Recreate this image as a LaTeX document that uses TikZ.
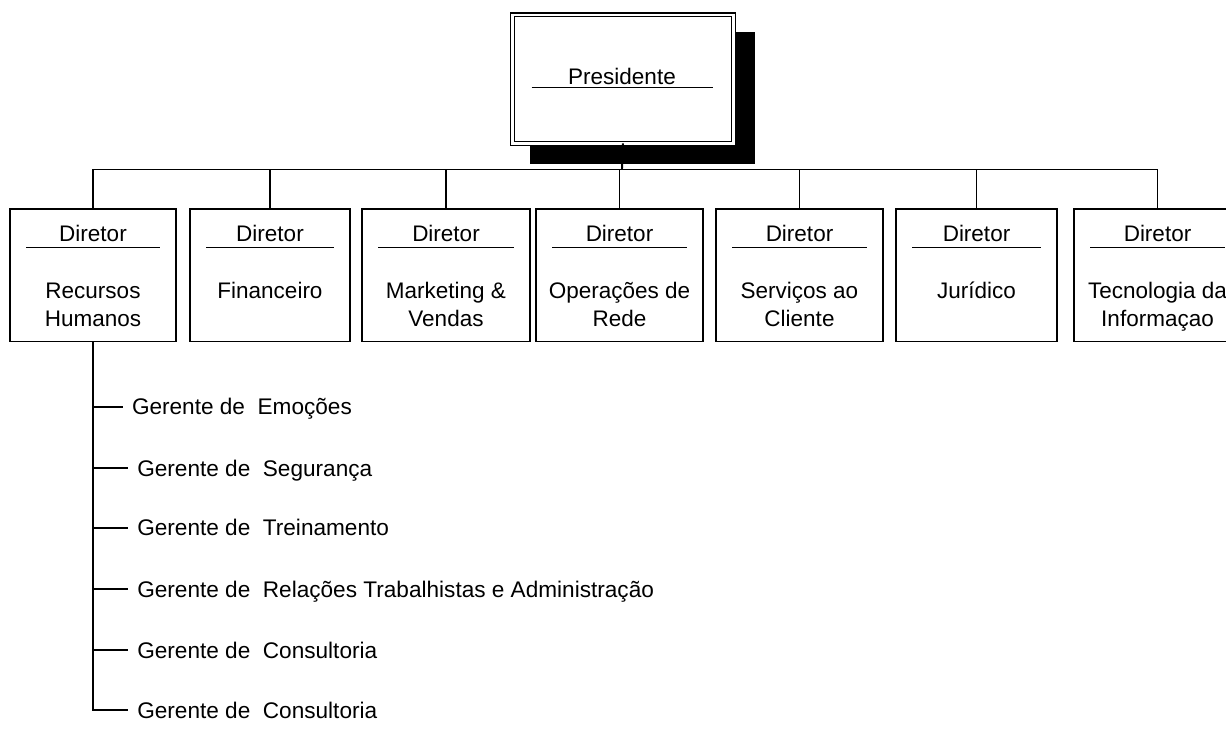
\documentclass[tikz,border=0pt]{standalone}
\usepackage{fontspec}
\setmainfont{Liberation Sans}
\usetikzlibrary{calc,backgrounds}
\begin{document}
\begin{tikzpicture}[x=1pt,y=-1pt,
  every node/.style={inner sep=0pt,outer sep=0pt},
  lbl/.style={font=\fontsize{22.5}{27.7}\selectfont,anchor=base},
  mgr/.style={font=\fontsize{22.6}{27.7}\selectfont,anchor=west,text height=16pt,text depth=0pt},
  presbox/.style={draw,double=white,double distance=2.4pt,line width=1.4pt,fill=white,
                  minimum width=220.7pt,minimum height=128.5pt},
  dirbox/.style={draw,line width=1.9pt,fill=white,minimum height=132.2pt},
  link/.style={line width=1.9pt},
  uline/.style={line width=1.5pt}]
\useasboundingbox (0,0) rectangle (1226,740);

% President box with its drop shadow
\node[presbox] (pres) at (622.95,79.05) {};
\begin{scope}[on background layer]
  \fill ($(pres.north west)+(17.4,17.2)$) rectangle ($(pres.south east)+(21.7,20.7)$);
\end{scope}
\node[lbl] (ptitle) at (622,84) {Presidente};
\draw[uline] ($(pres.west)+(19.1,8.65)$) -- ($(pres.east)+(-20,8.65)$);

% Director boxes: box, title and rule under the title
\newcommand\mkdir[3]{%
  \node[dirbox,minimum width=#3pt] (d#1) at (#2,275.4) {};
  \node[lbl] (t#1) at ($(d#1.north)+(0,32.3)$) {Diretor};
  \draw[uline] ($(d#1.north west)+(16,38.2)$) -- ($(d#1.north east)+(-16,38.2)$);
}
\mkdir{1}{93}{166}
\mkdir{2}{270}{160}
\mkdir{3}{446}{168}
\mkdir{4}{619.5}{167}
\mkdir{5}{799.5}{167}
\mkdir{6}{976.5}{161}
\mkdir{7}{1157.5}{167}

% Department names
\node[lbl] (a1) at ($(d1.north)+(0,89)$) {Recursos};
\node[lbl] (b1) at ($(d1.north)+(0,116.7)$) {Humanos};
\node[lbl] (a2) at ($(d2.north)+(0,89)$) {Financeiro};
\node[lbl] (a3) at ($(d3.north)+(0,89)$) {Marketing \&};
\node[lbl] (b3) at ($(d3.north)+(0,116.7)$) {Vendas};
\node[lbl] (a4) at ($(d4.north)+(0,89)$) {Operações de};
\node[lbl] (b4) at ($(d4.north)+(0,116.7)$) {Rede};
\node[lbl] (a5) at ($(d5.north)+(0,89)$) {Serviços ao};
\node[lbl] (b5) at ($(d5.north)+(0,116.7)$) {Cliente};
\node[lbl] (a6) at ($(d6.north)+(0,89)$) {Jurídico};
\node[lbl] (a7) at ($(d7.north)+(0,89)$) {Tecnologia da};
\node[lbl] (b7) at ($(d7.north)+(0,116.7)$) {Informaçao};

% Managers under Human Resources
\node[mgr] (m1) at (132,406.7) {Gerente de\ \ Emoções};
\node[mgr] (m2) at (137.3,468.3) {Gerente de\ \ Segurança};
\node[mgr] (m3) at (137.3,527.7) {Gerente de\ \ Treinamento};
\node[mgr] (m4) at (137.3,589.3) {Gerente de\ \ Relações Trabalhistas e Administração};
\node[mgr] (m5) at (137.3,650) {Gerente de\ \ Consultoria};
\node[mgr] (m6) at (137.3,710) {Gerente de\ \ Consultoria};

% Connectors
\coordinate (bus) at (622,169.5);
\draw[link] (pres.south) -- (bus);
\draw[link] (d1.north) |- (bus) -| (d7.north);
\foreach \i in {2,...,6} \draw[link] (d\i.north) -- (d\i.north |- bus);
\draw[link] (d1.south) |- ([xshift=-9.5pt]m6.west);
\foreach \i in {1,...,5} \draw[link] (d1.south |- m\i.west) -- ([xshift=-9.5pt]m\i.west);
\end{tikzpicture}
\end{document}
